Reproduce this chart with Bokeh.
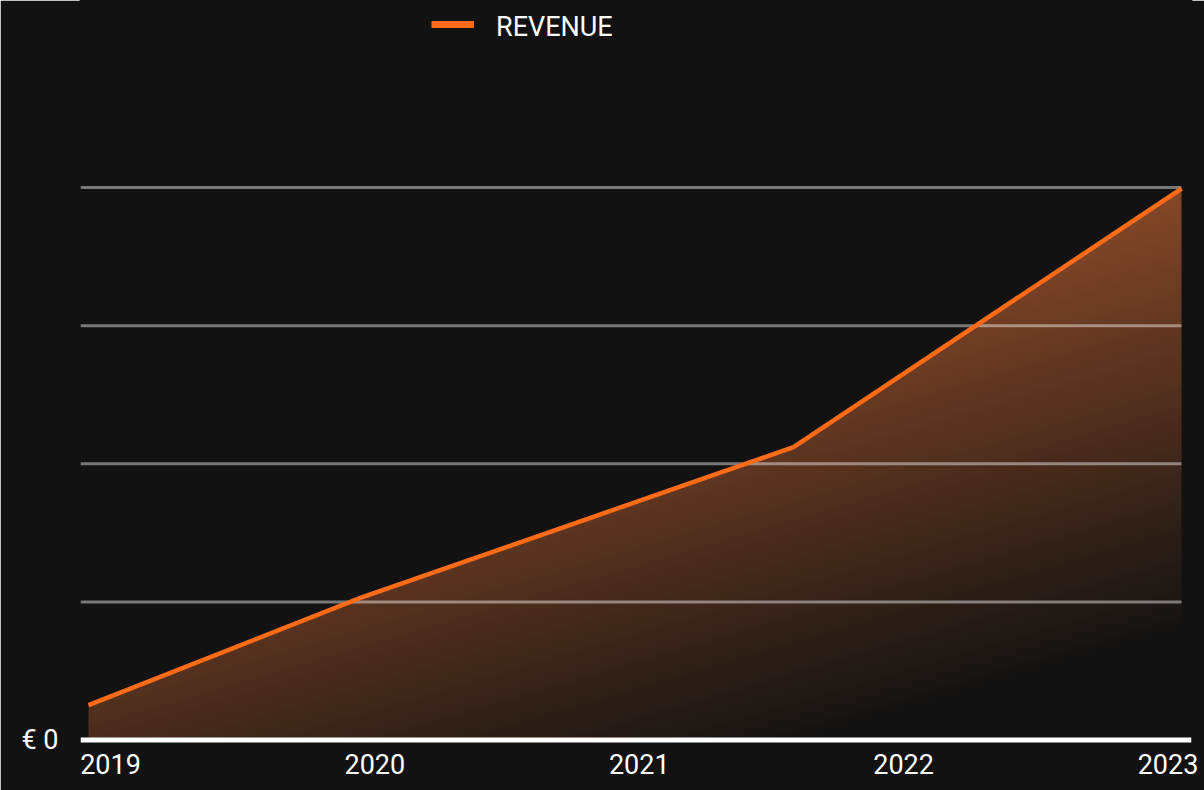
import numpy as np
from bokeh.plotting import figure
from bokeh.models import Range1d, LinearAxis, FixedTicker, Span, Legend, LegendItem
from bokeh.embed import file_html
from bokeh.resources import INLINE

# ---------------- data ----------------
periods = [2019.0, 2020.0, 2021.58, 2023.0]          # time of each observation (years)
revenue = [63000, 258000, 530000, 998000]            # revenue in EUR
year_ticks = [2019, 2020, 2021, 2022, 2023]
year_labels = ["2019", "2020", "2021", "2022", "2023"]
grid_values = [250000, 500000, 750000, 1000000]
y_tick_values = [0]
y_tick_labels = ["€ 0"]
series_name = "REVENUE"

# ---------------- style ----------------
BG = "#121212"
ORANGE = "#ff6b17"
FONT = "Roboto"
FS = "27px"

W, H = 1204, 790
ML, MR, MT, MB = 80, 13, 0, 45
frame_w = W - ML - MR
frame_h = H - MT - MB

# x mapping: first point 8px in from the frame's left edge, last 10px from right
pad_l, pad_r = 8, 10
span_years = periods[-1] - periods[0]
ppy = (frame_w - pad_l - pad_r) / span_years
x_start = periods[0] - pad_l / ppy
x_end = periods[-1] + pad_r / ppy

# y mapping: baseline 5.5px above frame bottom, top grid at 187px
base_px = frame_h - 5.5
ppe = (base_px - 187.0) / grid_values[-1]
y_start = -(frame_h - base_px) / ppe
y_end = base_px / ppe

# label row mapping (labels spread across the frame)
lab_left, lab_right = 30.0, 23.5
lpy = (frame_w - lab_left - lab_right) / (year_ticks[-1] - year_ticks[0])
lab_start = year_ticks[0] - lab_left / lpy
lab_end = year_ticks[-1] + lab_right / lpy

p = figure(width=W, height=H, output_backend="svg", toolbar_location=None,
           x_range=Range1d(x_start, x_end), y_range=Range1d(y_start, y_end),
           x_axis_location=None, min_border_left=ML, min_border_right=MR,
           min_border_top=MT, min_border_bottom=MB)
p.background_fill_color = BG
p.border_fill_color = BG
p.outline_line_color = BG
p.outline_line_width = 2
p.xgrid.visible = False
p.ygrid.visible = False

# ---------------- gradient area ----------------
nx, ny = 1100, 560
x0, x1 = periods[0], periods[-1]
y0, y1 = 0.0, float(max(revenue))
xc = x0 + (np.arange(nx) + 0.5) * (x1 - x0) / nx
yc = y0 + (np.arange(ny) + 0.5) * (y1 - y0) / ny
XX, YY = np.meshgrid(xc, yc)
line_at = np.interp(XX, periods, revenue)
u = (XX - x0) / (x1 - x0)
v = (y1 - YY) / (y1 - y0)
alpha = np.clip(0.84 - 0.35 * u - 0.60 * v, 0.0, 1.0)
alpha[YY > line_at] = 0.0
img = np.zeros((ny, nx, 4), dtype=np.uint8)
img[..., 0] = 255
img[..., 1] = 128
img[..., 2] = 64
img[..., 3] = (alpha * 255).astype(np.uint8)
p.image_rgba(image=[img.view(dtype=np.uint32).reshape(ny, nx)],
             x=x0, y=y0, dw=x1 - x0, dh=y1 - y0)

# ---------------- grid lines ----------------
p.segment(x0=[x_start] * len(grid_values), x1=[periods[-1]] * len(grid_values),
          y0=grid_values, y1=grid_values, line_color="white", line_alpha=0.43,
          line_width=3)

# baseline
p.add_layout(Span(location=0, dimension="width", line_color="white", line_width=5))

# ---------------- line ----------------
p.line(periods, revenue, line_color=ORANGE, line_width=4.5)
legend_r = p.line(x=[periods[0], periods[0]], y=[np.nan, np.nan],
                  line_color=ORANGE, line_width=7)
legend_blank = p.line(x=[periods[0], periods[0]], y=[np.nan, np.nan],
                      line_color=ORANGE, line_alpha=0, line_width=7)

# ---------------- axes ----------------
yax = p.yaxis[0]
yax.ticker = FixedTicker(ticks=y_tick_values)
yax.major_label_overrides = dict(zip(y_tick_values, y_tick_labels))
yax.axis_line_color = None
yax.major_tick_line_color = None
yax.minor_tick_line_color = None
yax.major_tick_out = 0
yax.major_tick_in = 0
yax.major_label_standoff = 22
yax.major_label_text_color = "white"
yax.major_label_text_font = FONT
yax.major_label_text_font_size = FS

p.extra_x_ranges = {"lab": Range1d(lab_start, lab_end)}
xax = LinearAxis(x_range_name="lab", ticker=FixedTicker(ticks=year_ticks),
                 major_label_overrides=dict(zip(year_ticks, year_labels)))
xax.axis_line_color = None
xax.major_tick_line_color = None
xax.minor_tick_line_color = None
xax.major_tick_out = 0
xax.major_tick_in = 0
xax.major_label_standoff = 8
xax.major_label_text_color = "white"
xax.major_label_text_font = FONT
xax.major_label_text_font_size = FS
p.add_layout(xax, "below")

# ---------------- legend ----------------
common = dict(orientation="horizontal", padding=0, margin=0, spacing=0,
              glyph_width=43, glyph_height=20, label_height=29, label_standoff=22,
              label_text_color="white", label_text_font=FONT,
              label_text_font_size=FS, background_fill_alpha=0, border_line_alpha=0)
legend_swatch = Legend(items=[LegendItem(label=" ", renderers=[legend_r])],
                       location=(351, 707), **common)
legend_text = Legend(items=[LegendItem(label=series_name, renderers=[legend_blank])],
                     location=(351, 702), **common)
p.add_layout(legend_swatch, "center")
p.add_layout(legend_text, "center")

open("out.html", "w").write(file_html(p, INLINE))
